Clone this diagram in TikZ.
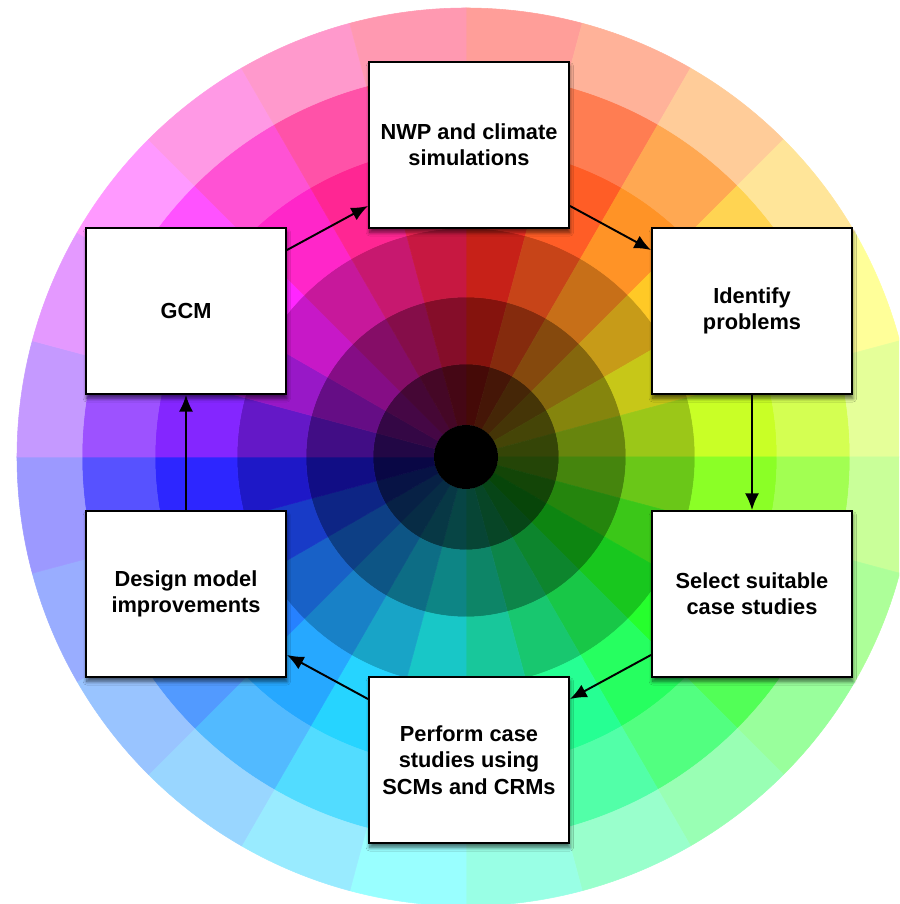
\documentclass[tikz,border=0pt]{standalone}
\usepackage{fontspec}
\setmainfont{Liberation Sans}
\usetikzlibrary{arrows.meta,shadows.blur}

\begin{document}
\begin{tikzpicture}[box/.style={rectangle, draw, line width=1.1pt, fill=white, minimum width=4cm, minimum height=3.32cm, align=center, font=\bfseries\fontsize{12.4}{15}\selectfont, blur shadow={shadow xshift=0.5pt, shadow yshift=-2.5pt, shadow blur steps=8, shadow opacity=60}},
  link/.style={-{Latex[length=9.5pt,width=8pt]}, line width=1.1pt}]
\useasboundingbox (-9.38,-9.03) rectangle (8.60,9.05);
\begin{scope}
\clip (-9.38,-9.03) rectangle (8.60,9.05);
\foreach \ri/\ro/\s/\b in {0.64/1.86/0.9/0.27, 1.86/3.2/0.9/0.52, 3.2/4.58/0.88/0.78, 4.58/6.22/0.85/1, 6.22/7.68/0.68/1, 7.68/8.98/0.4/1} {
  \foreach \k/\hue in {0/3,1/15,2/30,3/45,4/60,5/75,6/92,7/108,8/122,9/136,10/150,11/165,12/180,13/192,14/204,15/215,16/228,17/242,18/266,19/284,20/300,21/315,22/330,23/346} {
    \pgfmathsetmacro\a{90-15*\k}
    \pgfmathsetmacro\e{75-15*\k}
    \definecolor{seg}{Hsb}{\hue,\s,\b}
    \filldraw[seg, line width=0.3pt, shift={(-0.06,-0.09)}] (\a:\ri) arc[start angle=\a, end angle=\e, radius=\ri] -- (\e:\ro) arc[start angle=\e, end angle=\a, radius=\ro] -- cycle;
  }
}
\fill[black] (-0.06,-0.09) circle (0.64);
\end{scope}

\node[box] (nwp) at (0,6.15) {NWP and climate\\simulations};
\node[box] (gcm) at (-5.66,2.83) {GCM};
\node[box] (idp) at (5.66,2.83) {Identify\\problems};
\node[box] (sel) at (5.66,-2.83) {Select suitable\\case studies};
\node[box] (perf) at (0,-6.15) {Perform case\\studies using\\SCMs and CRMs};
\node[box] (dmi) at (-5.66,-2.83) {Design model\\improvements};

\draw[link] ([yshift=-0.46cm]gcm.north east) -- ([yshift=0.46cm]nwp.south west);
\draw[link] ([yshift=0.46cm]nwp.south east) -- ([yshift=-0.46cm]idp.north west);
\draw[link] (idp) -- (sel);
\draw[link] ([yshift=0.46cm]sel.south west) -- ([yshift=-0.46cm]perf.north east);
\draw[link] ([yshift=-0.46cm]perf.north west) -- ([yshift=0.46cm]dmi.south east);
\draw[link] (dmi) -- (gcm);
\end{tikzpicture}
\end{document}
